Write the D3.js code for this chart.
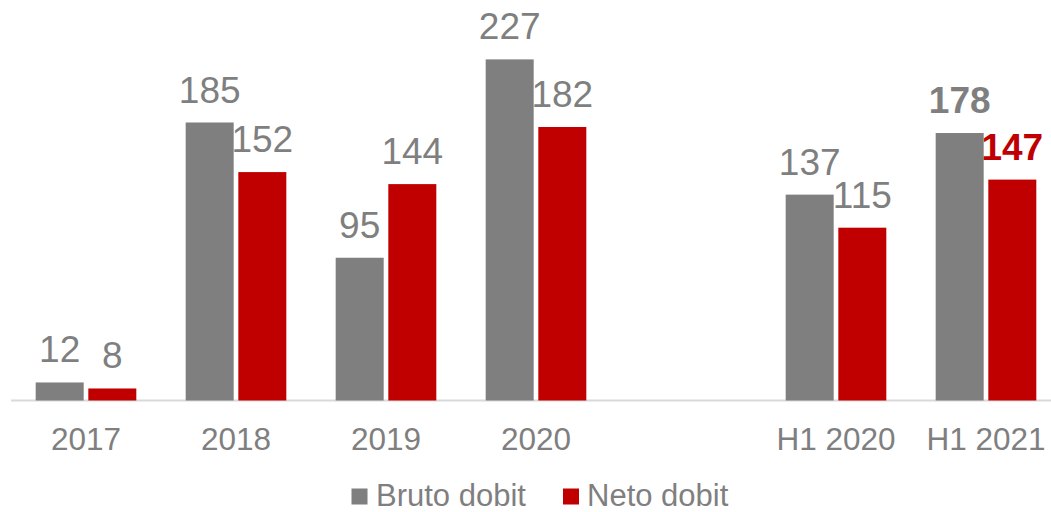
<!DOCTYPE html>
<html>
<head>
<meta charset="utf-8">
<script src="https://cdn.jsdelivr.net/npm/d3@7"></script>
<style>
  html, body { margin: 0; padding: 0; background: #fff; }
  svg { display: block; font-family: "Liberation Sans", Arial, sans-serif; }
</style>
</head>
<body>
<svg id="chart" width="1051" height="512"></svg>
<script>
// Category slots (an empty slot separates full years from half-years)
const categories = ["2017", "2018", "2019", "2020", "", "H1 2020", "H1 2021"];
const seriesNames = ["Bruto dobit", "Neto dobit"];
const brutoDobit = [12, 185, 95, 227, null, 137, 178];
const netoDobit  = [8, 152, 144, 182, null, 115, 147];
// Categories whose value labels are emphasised
const boldCategories = ["H1 2021"];

const colors = { "Bruto dobit": "#7f7f7f", "Neto dobit": "#c00000" };
const textGray = "#7f7f7f";

const svg = d3.select("#chart");
const baseY = 400.5;

const x = d3.scaleBand().domain(categories.map((c, i) => i)).range([11, 1061]).paddingInner(0).paddingOuter(0);
const inner = d3.scaleBand().domain(seriesNames).range([25, 125]).paddingInner(0.1);
const y = d3.scaleLinear().domain([0, 250]).range([baseY, baseY - 250 * 1.5027]);

const rows = categories.map((c, i) => ({
  cat: c, idx: i,
  values: [
    { name: "Bruto dobit", v: brutoDobit[i] },
    { name: "Neto dobit", v: netoDobit[i] }
  ]
}));

// Baseline axis
svg.append("line")
  .attr("x1", x.range()[0]).attr("x2", x.range()[1])
  .attr("y1", baseY).attr("y2", baseY)
  .attr("stroke", "#d9d9d9").attr("stroke-width", 2);

const bw = 48;
const groups = svg.selectAll("g.cat").data(rows.filter(r => r.cat !== ""))
  .join("g").attr("class", "cat")
  .attr("transform", d => `translate(${x(d.idx)},0)`);

groups.selectAll("rect").data(d => d.values.map(v => ({ ...v, cat: d.cat })))
  .join("rect")
  .attr("x", d => inner(d.name) + (inner.bandwidth() - bw) / 2)
  .attr("width", bw)
  .attr("y", d => y(d.v))
  .attr("height", d => y(0) - y(d.v))
  .attr("fill", d => colors[d.name]);

groups.selectAll("text.val").data(d => d.values.map(v => ({ ...v, cat: d.cat })))
  .join("text").attr("class", "val")
  .attr("x", d => inner(d.name) + inner.bandwidth() / 2)
  .attr("y", d => y(d.v) - 20)
  .attr("text-anchor", "middle")
  .attr("font-size", 37)
  .attr("font-weight", d => boldCategories.includes(d.cat) ? "bold" : "normal")
  .attr("fill", d => boldCategories.includes(d.cat) ? colors[d.name] : textGray)
  .text(d => d.v);

// Category labels
groups.append("text")
  .attr("x", x.bandwidth() / 2)
  .attr("y", 450)
  .attr("text-anchor", "middle")
  .attr("font-size", 31.5)
  .attr("fill", textGray)
  .text(d => d.cat);

// Legend
const legend = svg.append("g");
const legendItems = [
  { name: "Bruto dobit", sx: 351.5, tx: 376 },
  { name: "Neto dobit", sx: 563, tx: 587 }
];
legendItems.forEach(it => {
  legend.append("rect").attr("x", it.sx).attr("y", 488.5).attr("width", 16).attr("height", 16)
    .attr("fill", colors[it.name]);
  legend.append("text").attr("x", it.tx).attr("y", 505.5)
    .attr("font-size", 31).attr("fill", textGray).text(it.name);
});
</script>
</body>
</html>
